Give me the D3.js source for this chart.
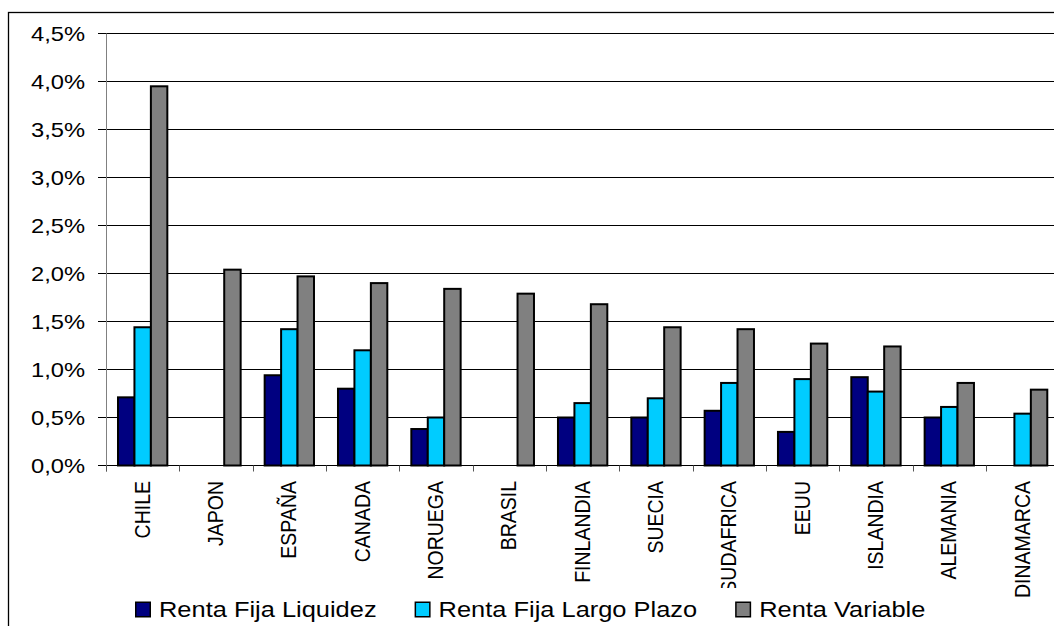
<!DOCTYPE html>
<html>
<head>
<meta charset="utf-8">
<script src="https://cdn.jsdelivr.net/npm/d3@7"></script>
<style>
  html, body { margin: 0; padding: 0; background: #fff; }
  svg { display: block; }
  text { font-family: "Liberation Sans", Arial, sans-serif; fill: #000; }
</style>
</head>
<body>
<svg id="chart" width="1054" height="626"></svg>
<script>
// ---- data ----
const categories = ["CHILE", "JAPON", "ESPAÑA", "CANADA", "NORUEGA", "BRASIL", "FINLANDIA", "SUECIA", "SUDAFRICA", "EEUU", "ISLANDIA", "ALEMANIA", "DINAMARCA"];
const seriesNames = ["Renta Fija Liquidez", "Renta Fija Largo Plazo", "Renta Variable"];
const rentaFijaLiquidez   = [0.0071, 0, 0.0094, 0.0080, 0.0038, 0, 0.0050, 0.0050, 0.0057, 0.0035, 0.0092, 0.0050, 0];
const rentaFijaLargoPlazo = [0.0144, 0, 0.0142, 0.0120, 0.0050, 0, 0.0065, 0.0070, 0.0086, 0.0090, 0.0077, 0.0061, 0.0054];
const rentaVariable       = [0.0395, 0.0204, 0.0197, 0.0190, 0.0184, 0.0179, 0.0168, 0.0144, 0.0142, 0.0127, 0.0124, 0.0086, 0.0079];
const yTicks = [0, 0.005, 0.01, 0.015, 0.02, 0.025, 0.03, 0.035, 0.04, 0.045];
const colors = ["#000080", "#00CCFF", "#808080"];

const seriesValues = [rentaFijaLiquidez, rentaFijaLargoPlazo, rentaVariable];

// ---- layout ----
const svg = d3.select("#chart");
const SX = 1.13; // horizontal stretch of the reference text
const plotLeft = 106, step = 73.33;
const x = d3.scaleBand().domain(categories).range([plotLeft, plotLeft + step * categories.length]).padding(0);
const groupPad = 12;
const xs = d3.scaleBand().domain(d3.range(seriesNames.length)).range([groupPad, x.bandwidth() - groupPad]).padding(0);
const y = d3.scaleLinear().domain([0, 0.045]).range([465.5, 33.5]);

const locale = d3.formatLocale({decimal: ",", thousands: ".", grouping: [3], currency: ["", "€"]});
const fmt = locale.format(".1%");

// outer frame
svg.append("rect").attr("x", 8.5).attr("y", 12.5).attr("width", 1100).attr("height", 700)
  .attr("fill", "#fff").attr("stroke", "#000").attr("stroke-width", 1.3);

// gridlines
svg.append("g").selectAll("line").data(yTicks).join("line")
  .attr("x1", 98).attr("x2", 1060)
  .attr("y1", d => y(d)).attr("y2", d => y(d))
  .attr("stroke", "#000").attr("stroke-width", 1);

// y axis line
svg.append("line").attr("x1", plotLeft + 0.5).attr("x2", plotLeft + 0.5).attr("y1", y(0.045)).attr("y2", y(0) + 6)
  .attr("stroke", "#808080").attr("stroke-width", 1);

// x tick marks
svg.append("g").selectAll("line").data(categories).join("line")
  .attr("x1", d => Math.round(x(d)) + 0.5).attr("x2", d => Math.round(x(d)) + 0.5)
  .attr("y1", y(0)).attr("y2", y(0) + 6)
  .attr("stroke", "#555").attr("stroke-width", 1);

// y labels
svg.append("g").selectAll("text").data(yTicks).join("text")
  .attr("transform", d => `translate(85,${y(d)}) scale(${SX},1)`)
  .attr("text-anchor", "end").attr("dy", "0.36em")
  .style("font-size", "21px")
  .text(d => fmt(d));

// bars
const groups = svg.append("g").selectAll("g").data(categories).join("g")
  .attr("transform", d => `translate(${x(d)},0)`);
groups.selectAll("rect")
  .data((c, i) => seriesValues.map((vals, s) => ({s, v: vals[i]})).filter(d => d.v > 0))
  .join("rect")
  .attr("x", d => xs(d.s))
  .attr("width", xs.bandwidth())
  .attr("y", d => y(d.v))
  .attr("height", d => y(0) - y(d.v))
  .attr("fill", d => colors[d.s])
  .attr("stroke", "#000").attr("stroke-width", 2);

// x labels
svg.append("g").selectAll("text").data(categories).join("text")
  .attr("transform", d => `translate(${x(d) + x.bandwidth() / 2 - 1},481) scale(${SX},1) rotate(-90)`)
  .attr("text-anchor", "end").attr("dy", "0.36em")
  .style("font-size", "19.5px")
  .text(d => d);

// legend
const lg = svg.append("g");
lg.append("rect").attr("x", 125).attr("y", 588).attr("width", 800).attr("height", 40).attr("fill", "#fff");
let lx = 135;
seriesNames.forEach((name, i) => {
  lg.append("rect").attr("x", lx + 0.75).attr("y", 602.25).attr("width", 14.5).attr("height", 14.5)
    .attr("fill", colors[i]).attr("stroke", "#000").attr("stroke-width", 1.5);
  const t = lg.append("text")
    .attr("transform", `translate(${lx + 24},617) scale(${SX},1)`)
    .style("font-size", "22.5px")
    .text(name);
  const w = t.node().getComputedTextLength() * SX;
  lx = lx + 24 + w + 38;
});
</script>
</body>
</html>
